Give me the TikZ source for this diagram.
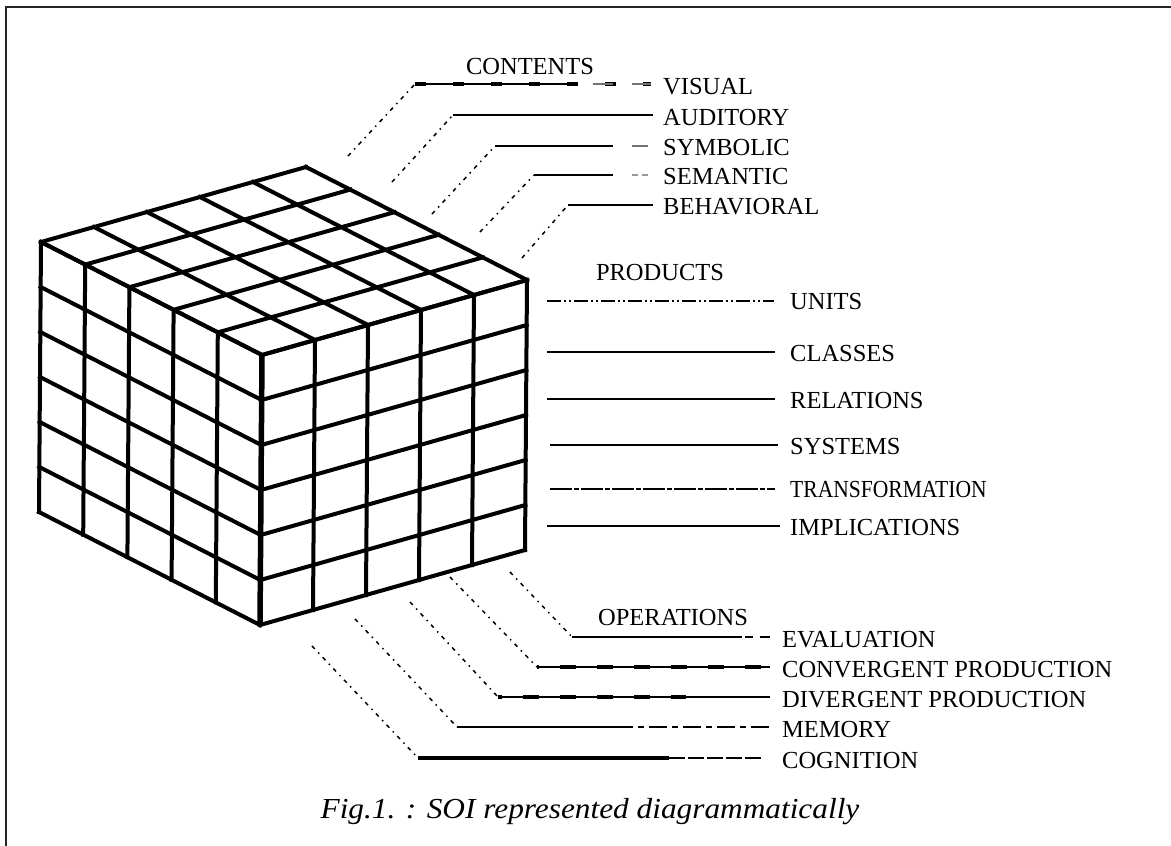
\documentclass[tikz,border=0pt]{standalone}
\usepackage{fontspec}
\setmainfont{Liberation Serif}
\tikzset{
  lab/.style={anchor=west, inner sep=0pt, font=\fontsize{24.5}{27}\selectfont},
  head/.style={inner sep=0pt, font=\fontsize{24.5}{27}\selectfont},
  leader/.style={line width=1.5pt, dash pattern=on 4pt off 5pt on 1.5pt off 5pt},
  cubeline/.style={line width=4pt, line cap=rect, line join=miter},
  rule/.style={line width=2.3pt},
  thinrule/.style={line width=1.8pt},
  greyrule/.style={line width=2.4pt, black!55},
}
\begin{document}
\begin{tikzpicture}[x=1pt,y=-1pt]
\useasboundingbox (0,0) rectangle (1171,846);
% frame
\draw[line width=2pt, black!85] (6,846) -- (6,7) -- (1171,7);

% ---------------- cube ----------------
\foreach \i in {0,...,5} {
  \draw[cubeline] ({262-221*\i/5},{355-113*\i/5}) -- ++(265,-75);
  \draw[cubeline] ({262+265*\i/5},{355-75*\i/5}) -- ++(-221,-113);
  \draw[cubeline] ({262-221*\i/5},{355-113*\i/5}) -- ++(-2,270);
  \draw[cubeline] ({262+265*\i/5},{355-75*\i/5}) -- ++(-2,270);
}
\foreach \k in {0,...,6} {
  \draw[cubeline] ({262-2*\k/6},{355+270*\k/6}) -- ++(-221,-113);
  \draw[cubeline] ({262-2*\k/6},{355+270*\k/6}) -- ++(265,-75);
}
\draw[line width=5.5pt] (262,355) -- (260,625);

% ---------------- CONTENTS ----------------
\node[head] (contents) at (530,67) {CONTENTS};
\node[lab] (visual)     at (663,87)  {VISUAL};
\node[lab] (auditory)   at (663,118) {AUDITORY};
\node[lab] (symbolic)   at (663,148) {SYMBOLIC};
\node[lab] (semantic)   at (663,177) {SEMANTIC};
\node[lab] (behavioral) at (663,207) {BEHAVIORAL};

\coordinate (vis-f) at (348,156); \coordinate (vis-k) at (415,84);  \coordinate (vis-e) at (651,84);
\coordinate (aud-f) at (392,182); \coordinate (aud-k) at (453,115); \coordinate (aud-e) at (653,115);
\coordinate (sym-f) at (432,214); \coordinate (sym-k) at (495,146); \coordinate (sym-e) at (648,146);
\coordinate (sem-f) at (480,232); \coordinate (sem-k) at (534,175); \coordinate (sem-e) at (648,175);
\coordinate (beh-f) at (522,258); \coordinate (beh-k) at (568,205); \coordinate (beh-e) at (653,205);

\draw[leader] (vis-f) -- (vis-k);
\draw[leader] (aud-f) -- (aud-k);
\draw[leader] (sym-f) -- (sym-k);
\draw[leader] (sem-f) -- (sem-k);
\draw[leader] (beh-f) -- (beh-k);

\draw[rule, dash pattern=on 160pt off 200pt] (vis-k) -- (vis-e);
\draw[line width=3.6pt, dash pattern=on 11pt off 27pt] (vis-k) -- (vis-e);
\draw[greyrule, dash pattern=on 0pt off 178pt on 20pt off 19pt on 19pt off 50pt] (vis-k) -- (vis-e);
\draw[thinrule] (aud-k) -- (aud-e);
\draw[rule, dash pattern=on 118pt off 100pt] (sym-k) -- (sym-e);
\draw[greyrule, dash pattern=on 0pt off 137pt on 16pt off 50pt] (sym-k) -- (sym-e);
\draw[rule, dash pattern=on 79pt off 100pt] (sem-k) -- (sem-e);
\draw[greyrule, black!40, dash pattern=on 0pt off 98pt on 6pt off 4pt on 6pt off 50pt] (sem-k) -- (sem-e);
\draw[rule] (beh-k) -- (beh-e);

% ---------------- PRODUCTS ----------------
\node[head] (products) at (660,273) {PRODUCTS};
\node[lab] (units)     at (790,302) {UNITS};
\node[lab] (classes)   at (790,354) {CLASSES};
\node[lab] (relations) at (790,401) {RELATIONS};
\node[lab] (systems)   at (790,447) {SYSTEMS};
\node[lab] (transf)    at (790,490) {\scalebox{0.88}[1]{TRANSFORMATION}};
\node[lab] (implic)    at (790,528) {IMPLICATIONS};

\coordinate (uni-s) at (547,301); \coordinate (uni-e) at (774,301);
\coordinate (cla-s) at (547,352); \coordinate (cla-e) at (775,352);
\coordinate (rel-s) at (547,399); \coordinate (rel-e) at (775,399);
\coordinate (sys-s) at (550,445); \coordinate (sys-e) at (778,445);
\coordinate (tra-s) at (550,489); \coordinate (tra-e) at (775,489);
\coordinate (imp-s) at (547,526); \coordinate (imp-e) at (780,526);

\draw[line width=2.6pt, dash pattern=on 14pt off 3pt on 2pt off 3pt on 2pt off 3pt] (uni-s) -- (uni-e);
\draw[rule] (cla-s) -- (cla-e);
\draw[rule] (rel-s) -- (rel-e);
\draw[rule] (sys-s) -- (sys-e);
\draw[line width=2.6pt, dash pattern=on 22pt off 2pt on 5pt off 2pt] (tra-s) -- (tra-e);
\draw[rule] (imp-s) -- (imp-e);

% ---------------- OPERATIONS ----------------
\node[head] (operations) at (673,618) {OPERATIONS};
\node[lab] (evaluation) at (782,640) {EVALUATION};
\node[lab] (convergent) at (782,670) {CONVERGENT PRODUCTION};
\node[lab] (divergent)  at (782,700) {DIVERGENT PRODUCTION};
\node[lab] (memory)     at (782,730) {MEMORY};
\node[lab] (cognition)  at (782,761) {COGNITION};

\coordinate (eva-f) at (510,572); \coordinate (eva-k) at (572,637); \coordinate (eva-e) at (770,637);
\coordinate (con-f) at (450,577); \coordinate (con-k) at (537,667); \coordinate (con-e) at (770,667);
\coordinate (div-f) at (410,602); \coordinate (div-k) at (498,697); \coordinate (div-e) at (770,697);
\coordinate (div-m) at (686,697);
\coordinate (mem-f) at (355,619); \coordinate (mem-k) at (457,727); \coordinate (mem-e) at (770,727);
\coordinate (cog-f) at (312,646); \coordinate (cog-k) at (418,758); \coordinate (cog-e) at (762,758);
\coordinate (cog-m) at (669,758);

\draw[leader] (eva-f) -- (eva-k);
\draw[leader] (con-f) -- (con-k);
\draw[leader] (div-f) -- (div-k);
\draw[leader] (mem-f) -- (mem-k);
\draw[leader] (cog-f) -- (cog-k);

\draw[rule, dash pattern=on 170pt off 3pt on 8pt off 7pt on 10pt off 50pt] (eva-k) -- (eva-e);
\draw[thinrule] (con-k) -- (con-e);
\draw[line width=3.8pt, dash pattern=on 16pt off 21pt, dash phase=14pt] (con-k) -- (con-e);
\draw[thinrule] (div-k) -- (div-e);
\draw[line width=3.8pt, dash pattern=on 16pt off 21pt, dash phase=12pt] (div-k) -- (div-m);
\draw[rule, dash pattern=on 176pt off 5pt on 6pt off 5pt on 18pt off 5pt on 6pt off 5pt on 18pt off 5pt on 6pt off 5pt on 18pt off 5pt on 6pt off 5pt on 18pt off 50pt] (mem-k) -- (mem-e);
\draw[line width=4pt] (cog-k) -- (cog-m);
\draw[line width=2.8pt, dash pattern=on 16pt off 3pt] (cog-m) -- (cog-e);

% ---------------- caption ----------------
\node[inner sep=0pt, font=\fontsize{29}{33}\selectfont\itshape] (caption) at (590,812)
  {\scalebox{1.08}[1]{Fig.1. : SOI represented diagrammatically}};
\end{tikzpicture}
\end{document}
